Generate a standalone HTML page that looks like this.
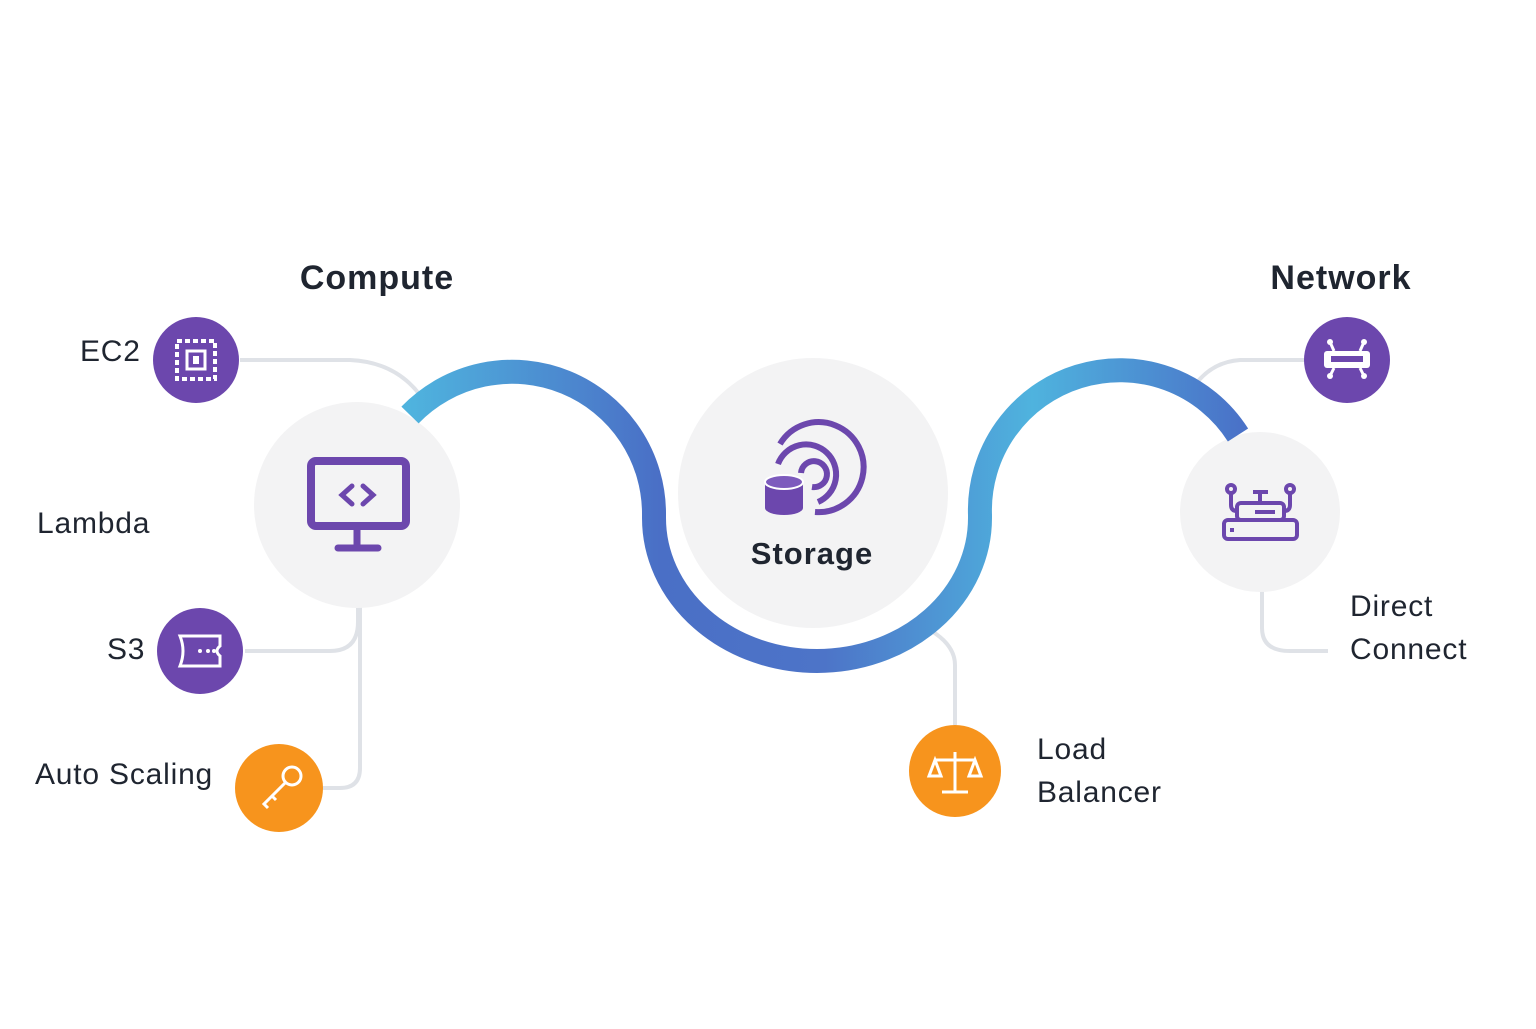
<!DOCTYPE html>
<html><head><meta charset="utf-8"><style>
html,body{margin:0;padding:0;background:#fff;}
svg text{font-family:"Liberation Sans",sans-serif;}
</style></head><body>
<svg width="1536" height="1024" viewBox="0 0 1536 1024" xmlns="http://www.w3.org/2000/svg">
<defs>
<linearGradient id="g" x1="410" y1="0" x2="1240" y2="0" gradientUnits="userSpaceOnUse">
<stop offset="0" stop-color="#4fb3de"/>
<stop offset="0.3" stop-color="#4a6fc6"/>
<stop offset="0.5" stop-color="#4d74c8"/>
<stop offset="0.75" stop-color="#4fb3de"/>
<stop offset="1" stop-color="#4a72c8"/>
</linearGradient>
</defs>
<g fill="none" stroke="#dfe2e7" stroke-width="4">
<path d="M240,360 H350 Q395,362 420,395"/>
<path d="M245,651 H330 Q358,651 358,622 V605"/>
<path d="M322,788 H340 Q360,788 360,768 V605"/>
<path d="M955,725 V665 Q955,645 930,630"/>
<path d="M1305,360 H1240 Q1212,362 1195,385"/>
<path d="M1262,590 V628 Q1262,651 1290,651 H1328"/>
</g>
<circle cx="357" cy="505" r="103" fill="#f3f3f4"/>
<circle cx="813" cy="493" r="135" fill="#f3f3f4"/>
<circle cx="1260" cy="512" r="80" fill="#f3f3f4"/>
<path d="M410,415 A142,142 0 0 1 654,515 L654,518 A163,143 0 0 0 980,518 L980,515 A140,140 0 0 1 1238,435" fill="none" stroke="url(#g)" stroke-width="24"/>
<circle cx="196" cy="360" r="43" fill="#6c47ad"/>
<circle cx="200" cy="651" r="43" fill="#6c47ad"/>
<circle cx="279" cy="788" r="44" fill="#f7941d"/>
<circle cx="955" cy="771" r="46" fill="#f7941d"/>
<circle cx="1347" cy="360" r="43" fill="#6c47ad"/>
<g fill="none" stroke="#fff" stroke-width="4">
<rect x="177" y="341" width="38" height="38" stroke-dasharray="5 3"/>
<rect x="187" y="351" width="18" height="18" stroke-width="3"/>
</g>
<rect x="193" y="356" width="6" height="8" fill="#fff"/>
<path d="M180,636 H220 V646 Q214,651 220,656 V666 H180 Q186,651 180,636 Z" fill="none" stroke="#fff" stroke-width="3"/>
<g fill="#fff"><circle cx="200" cy="651" r="2"/><circle cx="208" cy="651" r="2"/><circle cx="214" cy="651" r="2"/></g>
<g fill="none" stroke="#fff" stroke-width="3"><circle cx="292" cy="776" r="9"/><path d="M285,783 L264,804 L268,808 M272,796 L276,800"/></g>
<g fill="none" stroke="#fff" stroke-width="3"><path d="M955,752 V792 M942,792 H968 M935,760 H975 M935,760 L929,776 H941 Z M975,760 L969,776 H981 Z"/></g>
<g fill="#fff"><rect x="1324" y="351" width="46" height="17" rx="3"/><circle cx="1330" cy="342" r="3"/><circle cx="1364" cy="342" r="3"/><circle cx="1330" cy="376" r="3"/><circle cx="1364" cy="376" r="3"/></g>
<rect x="1331" y="356" width="32" height="6" fill="#6c47ad"/>
<g stroke="#fff" stroke-width="3"><path d="M1330,342 L1334,351 M1364,342 L1360,351 M1330,376 L1334,368 M1364,376 L1360,368"/></g>
<g fill="none" stroke="#6c47ad"><rect x="311" y="461" width="95" height="65" rx="5" stroke-width="8"/>
<path d="M352,486 L342,495 L352,504 M363,486 L373,495 L363,504" stroke-width="5" stroke-linecap="round"/>
<path d="M357,530 V545 M338,548 H378" stroke-width="7" stroke-linecap="round"/></g>
<g fill="none" stroke="#6c47ad" stroke-width="6">
<path d="M778,464 A30,30 0 1 1 818,502"/>
<path d="M780,444 A45,45 0 1 1 815,512"/>
<path d="M801,473 A13,13 0 1 1 812,487"/>
</g>
<path d="M765,482 V508 A19,7 0 0 0 803,508 V482 Z" fill="#6c47ad"/>
<ellipse cx="784" cy="482" rx="19" ry="7" fill="#7d5bbd" stroke="#fff" stroke-width="2"/>
<g fill="none" stroke="#6c47ad" stroke-width="4">
<rect x="1224" y="520" width="73" height="19" rx="4"/>
<rect x="1237" y="503" width="47" height="17" rx="4"/>
<circle cx="1231" cy="489" r="4"/><circle cx="1290" cy="489" r="4"/>
<path d="M1231,493 V505 Q1231,511 1237,511 M1290,493 V505 Q1290,511 1284,511 M1260,503 V492 M1253,492 H1268"/>
<path d="M1255,512 H1275"/></g>
<rect x="1230" y="528" width="4" height="4" fill="#6c47ad"/>
<g fill="#1f2530" font-weight="bold">
<text x="377" y="289" font-size="34" text-anchor="middle" letter-spacing="1">Compute</text>
<text x="1341" y="289" font-size="34" text-anchor="middle" letter-spacing="1">Network</text>
<text x="812" y="564" font-size="31" text-anchor="middle" letter-spacing="1">Storage</text>
</g>
<g fill="#1f2530" font-size="30" letter-spacing="0.8">
<text x="80" y="361">EC2</text>
<text x="37" y="533">Lambda</text>
<text x="107" y="659">S3</text>
<text x="35" y="784">Auto Scaling</text>
<text x="1037" y="759">Load</text>
<text x="1037" y="802">Balancer</text>
<text x="1350" y="616">Direct</text>
<text x="1350" y="659">Connect</text>
</g>
</svg>
</body></html>
